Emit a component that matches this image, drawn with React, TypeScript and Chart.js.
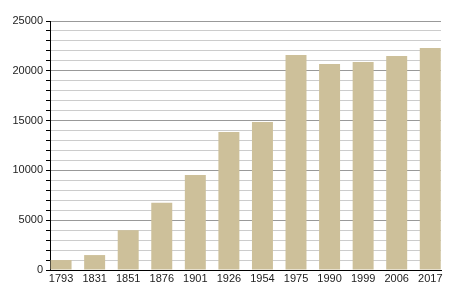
import React, { useEffect, useRef } from "react";
import { Chart, registerables } from "chart.js";

Chart.register(...registerables);

const years = ["1793", "1831", "1851", "1876", "1901", "1926", "1954", "1975", "1990", "1999", "2006", "2017"];
const population = [1000, 1500, 4000, 6750, 9530, 13850, 14860, 21590, 20690, 20880, 21490, 22290];
const yTicksMajor = [0, 5000, 10000, 15000, 20000, 25000];

export default function App() {
  const ref = useRef<HTMLCanvasElement>(null);
  useEffect(() => {
    if (!ref.current) return;
    const font = { family: "'Liberation Sans', Arial, sans-serif", size: 11 };
    const chart = new Chart(ref.current, {
      type: "bar",
      data: {
        datasets: [
          {
            data: population.map((v, i) => ({ x: i, y: v })),
            backgroundColor: "#cdc09a",
            borderWidth: 0,
            barPercentage: 0.625,
            categoryPercentage: 1,
          },
        ],
      },
      options: {
        animation: false,
        responsive: false,
        layout: { padding: { top: 21, right: 9, left: 0, bottom: 0 } },
        plugins: { legend: { display: false }, tooltip: { enabled: false } },
        scales: {
          x: {
            type: "linear",
            offset: false,
            min: -0.33,
            max: 11.32,
            afterBuildTicks: (scale: any) => {
              scale.ticks = years.map((_, i) => ({ value: i }));
            },
            afterFit: (scale: any) => {
              scale.height = 30;
            },
            grid: { display: false, drawTicks: false },
            border: { display: true, color: "#000", width: 1 },
            ticks: {
              font,
              color: "#222",
              padding: 2,
              maxRotation: 0,
              autoSkip: false,
              callback: (v: any) => years[v] ?? "",
            },
          },
          y: {
            min: 0,
            max: 25000,
            afterFit: (scale: any) => {
              scale.width = 50;
            },
            border: { display: true, color: "#000", width: 1 },
            grid: {
              color: (ctx: any) => {
                const v = ctx.tick ? ctx.tick.value : -1;
                if (v === 0) return "#000000";
                return yTicksMajor.includes(v) ? "#999999" : "#cccccc";
              },
              tickColor: "#000",
              tickLength: 4,
              drawTicks: true,
            },
            ticks: {
              stepSize: 1000,
              font,
              color: "#222",
              padding: 3,
              autoSkip: false,
              callback: (v: any) => (yTicksMajor.includes(v) ? String(v) : ""),
            },
          },
        },
      },
    });
    return () => chart.destroy();
  }, []);
  return (
    <div style={{ position: "absolute", left: 0, top: 0, width: 450, height: 300, background: "#fff" }}>
      <canvas ref={ref} width={450} height={300} style={{ display: "block" }} />
    </div>
  );
}
